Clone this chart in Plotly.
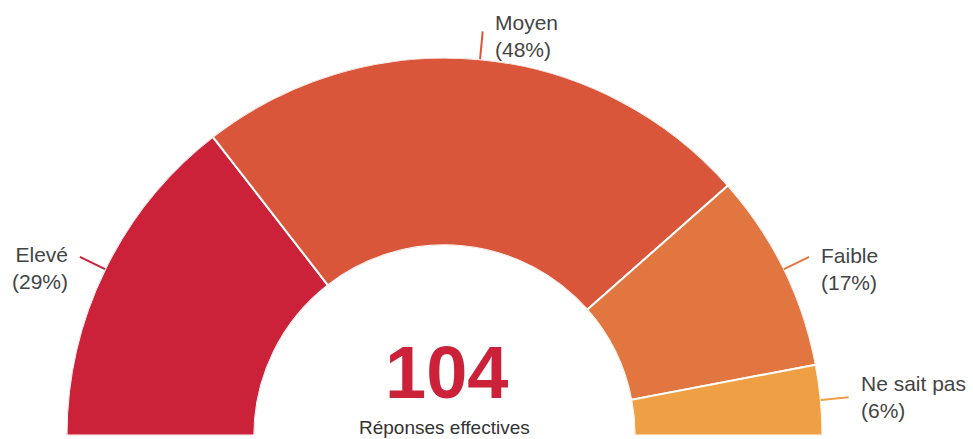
import math
import plotly.graph_objects as go

# ---- data ----
categories = ["Elevé", "Moyen", "Faible", "Ne sait pas"]
percentages = [29, 48, 17, 6]
total_responses = 104
center_caption = "Réponses effectives"

# ---- styles ----
colors = ["#CB2139", "#DA563B", "#E27640", "#EFA044"]
W, H = 973, 439
cx, cy, R = 444.5, 435.5, 378.0        # target pixel geometry of the half donut
dom_x = [(cx - R) / W, (cx + R) / W]
dom_y = [(H - cy) / H, (H - cy + R) / H]
hole = 0.503
label_dy = [-11, -5, -12, 0]          # vertical nudge of label blocks (px)
label_gap = 10                         # px between leader line end and text
lead_len = 28                          # leader line length in px
font_family = "Arial, Liberation Sans, Helvetica, sans-serif"

# angular positions (degrees, clockwise from 9 o'clock over 180°)
tot = sum(percentages)
widths = [p / tot * 180 for p in percentages]
starts = [sum(widths[:i]) for i in range(len(widths))]
mids = [s + w / 2 for s, w in zip(starts, widths)]

fig = go.Figure()
fig.add_trace(go.Barpolar(
    r=[1] * len(categories),
    theta=mids,
    width=widths,
    base=0,
    marker=dict(color=colors, line=dict(color="white", width=2)),
    text=categories,
    hoverinfo="text",
    showlegend=False,
))

shapes = []
annotations = []
for i, (cat, pct, m, dy) in enumerate(zip(categories, percentages, mids, label_dy)):
    ang = math.radians(180 - m)  # standard math angle
    x0 = cx + R * math.cos(ang)
    y0 = cy - R * math.sin(ang)
    x1 = cx + (R + lead_len) * math.cos(ang)
    y1 = cy - (R + lead_len) * math.sin(ang)
    shapes.append(dict(type="line", xref="paper", yref="paper",
                       x0=x0 / W, y0=1 - y0 / H, x1=x1 / W, y1=1 - y1 / H,
                       line=dict(color=colors[i], width=2)))
    left_side = math.cos(ang) < 0
    annotations.append(dict(
        xref="paper", yref="paper",
        x=x1 / W, y=1 - y1 / H,
        xanchor="right" if left_side else "left",
        yanchor="middle",
        xshift=-label_gap if left_side else label_gap,
        yshift=dy,
        align="right" if left_side else "left",
        text=f"{cat}<br>({pct}%)",
        showarrow=False,
        font=dict(family=font_family, size=21, color="#444444"),
    ))

annotations.append(dict(
    xref="paper", yref="paper", x=(cx + 1.5) / W, y=1 - 401 / H,
    xanchor="center", yanchor="bottom", yshift=-15,
    text=f"<b>{total_responses}</b>", showarrow=False,
    font=dict(family=font_family, size=74, color=colors[0]),
))
annotations.append(dict(
    xref="paper", yref="paper", x=cx / W, y=1 - 431 / H,
    xanchor="center", yanchor="bottom", yshift=-9,
    text=center_caption, showarrow=False,
    font=dict(family=font_family, size=19, color="#333333"),
))

fig.update_layout(
    width=W, height=H,
    margin=dict(l=0, r=0, t=0, b=0),
    paper_bgcolor="white",
    plot_bgcolor="white",
    polar=dict(
        domain=dict(x=dom_x, y=dom_y),
        sector=[0, 180],
        hole=hole,
        bgcolor="white",
        radialaxis=dict(visible=False, range=[0, 1]),
        angularaxis=dict(visible=False, direction="clockwise", rotation=180),
        barmode="overlay",
    ),
    shapes=shapes,
    annotations=annotations,
)

fig.write_html("out.html",
               config={"displayModeBar": False},
               post_script="document.body.style.margin='0';document.body.style.overflow='hidden';")
